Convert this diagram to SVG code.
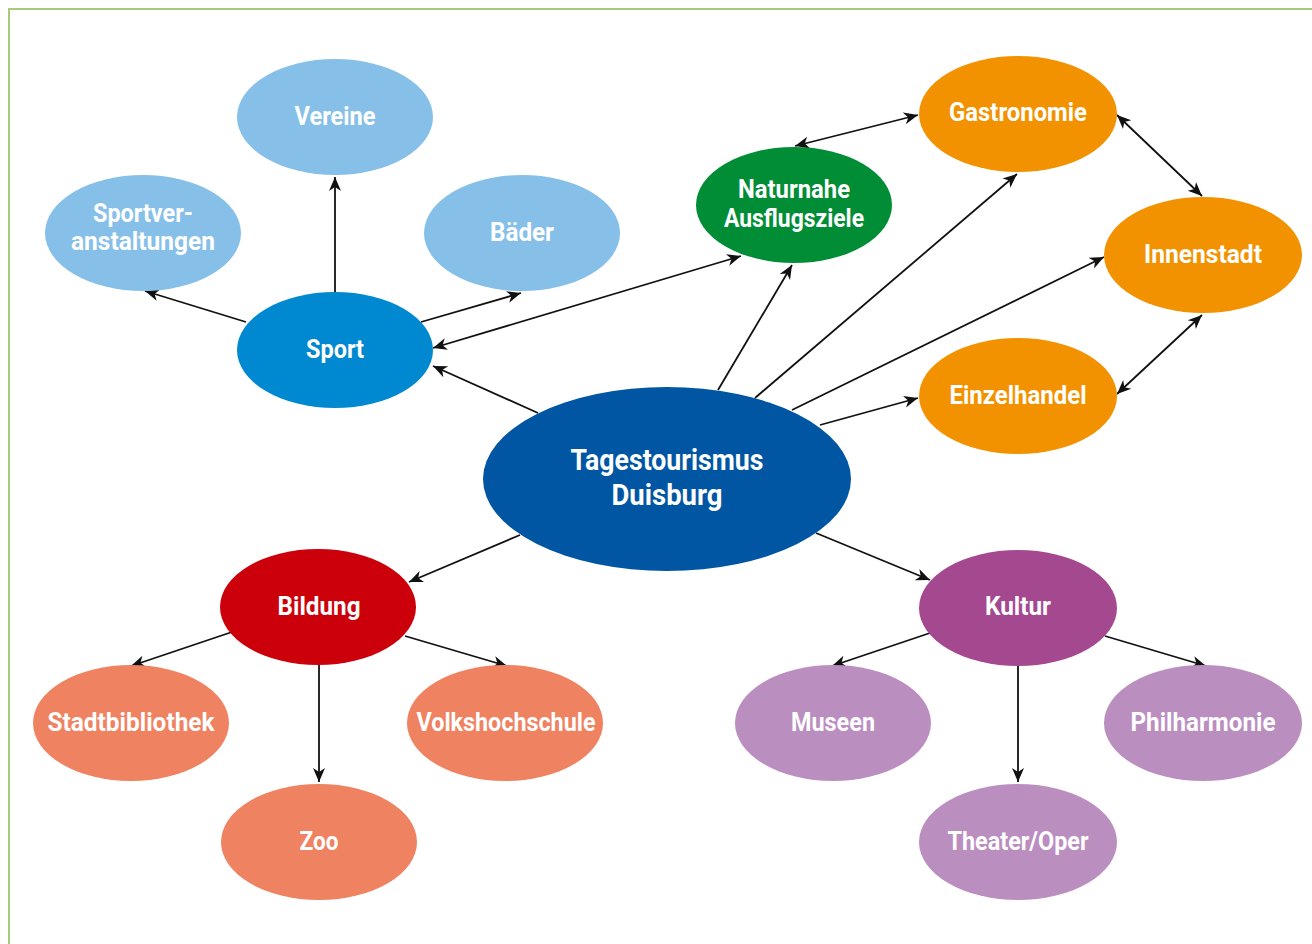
<svg xmlns="http://www.w3.org/2000/svg" width="1312" height="944" viewBox="0 0 1312 944">
  <style>
    .frame { fill: none; stroke: #a6cb7c; stroke-width: 2; }
    .edge { fill: none; stroke: #111; stroke-width: 1.8; }
    .lbl { fill: #fff; font-family: Roboto, "Liberation Sans", sans-serif; font-weight: 700; font-size: 25px; text-anchor: middle; }
    .big { font-size: 30px; }
    .lblue { fill: #86bfe8; }
    .sport { fill: #0089d1; }
    .center { fill: #0056a2; }
    .green { fill: #008d36; }
    .orange { fill: #f39200; }
    .red { fill: #cc000a; }
    .salmon { fill: #ef8261; }
    .kultur { fill: #a4488f; }
    .lpurple { fill: #bb8ec0; }
  </style>
  <defs>
    <marker id="arrow" markerUnits="userSpaceOnUse" markerWidth="16" markerHeight="14" refX="14" refY="7" orient="auto-start-reverse" viewBox="0 0 16 14">
      <path d="M0,1 L14,7 L0,13 L4,7 Z" fill="#111"/>
    </marker>
  </defs>

  <rect width="1312" height="944" fill="#fff"/>
  <path class="frame" d="M9,944 V9 H1312"/>

  <!-- connectors -->
  <g id="connectors">
    <line class="edge" x1="335" y1="292" x2="335" y2="177" marker-end="url(#arrow)"/>
    <line class="edge" x1="246" y1="322" x2="145" y2="291" marker-end="url(#arrow)"/>
    <line class="edge" x1="421" y1="322" x2="521" y2="293" marker-end="url(#arrow)"/>
    <line class="edge" x1="433" y1="348" x2="741" y2="256" marker-start="url(#arrow)" marker-end="url(#arrow)"/>
    <line class="edge" x1="538" y1="413" x2="433" y2="366" marker-end="url(#arrow)"/>
    <line class="edge" x1="718" y1="390" x2="792" y2="265" marker-end="url(#arrow)"/>
    <line class="edge" x1="755" y1="398" x2="1017" y2="174" marker-end="url(#arrow)"/>
    <line class="edge" x1="792" y1="410" x2="1104" y2="257" marker-end="url(#arrow)"/>
    <line class="edge" x1="820" y1="425" x2="918" y2="398" marker-end="url(#arrow)"/>
    <line class="edge" x1="795" y1="146" x2="918" y2="115" marker-start="url(#arrow)" marker-end="url(#arrow)"/>
    <line class="edge" x1="1117" y1="115" x2="1202" y2="196" marker-start="url(#arrow)" marker-end="url(#arrow)"/>
    <line class="edge" x1="1117" y1="394" x2="1202" y2="315" marker-start="url(#arrow)" marker-end="url(#arrow)"/>
    <line class="edge" x1="520" y1="535" x2="409" y2="582" marker-end="url(#arrow)"/>
    <line class="edge" x1="816" y1="533" x2="930" y2="580" marker-end="url(#arrow)"/>
    <line class="edge" x1="232" y1="632" x2="131" y2="666" marker-end="url(#arrow)"/>
    <line class="edge" x1="319" y1="665" x2="319" y2="782" marker-end="url(#arrow)"/>
    <line class="edge" x1="405" y1="636" x2="507" y2="666" marker-end="url(#arrow)"/>
    <line class="edge" x1="930" y1="633" x2="832" y2="666" marker-end="url(#arrow)"/>
    <line class="edge" x1="1018" y1="666" x2="1018" y2="782" marker-end="url(#arrow)"/>
    <line class="edge" x1="1105" y1="636" x2="1206" y2="666" marker-end="url(#arrow)"/>
  </g>

  <!-- Sport branch -->
  <g id="vereine">
    <ellipse class="lblue" cx="335" cy="117" rx="98" ry="58"/>
    <text class="lbl" x="335" y="125" textLength="81" lengthAdjust="spacingAndGlyphs">Vereine</text>
  </g>
  <g id="sportveranstaltungen">
    <ellipse class="lblue" cx="143" cy="233" rx="98" ry="58"/>
    <text class="lbl" x="143" y="222" textLength="100" lengthAdjust="spacingAndGlyphs">Sportver-</text>
    <text class="lbl" x="143" y="250" textLength="144" lengthAdjust="spacingAndGlyphs">anstaltungen</text>
  </g>
  <g id="baeder">
    <ellipse class="lblue" cx="522" cy="233" rx="98" ry="58"/>
    <text class="lbl" x="522" y="241" textLength="64" lengthAdjust="spacingAndGlyphs">Bäder</text>
  </g>
  <g id="sport">
    <ellipse class="sport" cx="335" cy="350" rx="98" ry="58"/>
    <text class="lbl" x="335" y="358" textLength="58" lengthAdjust="spacingAndGlyphs">Sport</text>
  </g>

  <!-- Nature / city cluster -->
  <g id="naturnahe">
    <ellipse class="green" cx="794" cy="205" rx="98" ry="58"/>
    <text class="lbl" x="794" y="198" textLength="112" lengthAdjust="spacingAndGlyphs">Naturnahe</text>
    <text class="lbl" x="794" y="227" textLength="140" lengthAdjust="spacingAndGlyphs">Ausflugsziele</text>
  </g>
  <g id="gastronomie">
    <ellipse class="orange" cx="1018" cy="114" rx="99" ry="58"/>
    <text class="lbl" x="1018" y="121" textLength="138" lengthAdjust="spacingAndGlyphs">Gastronomie</text>
  </g>
  <g id="innenstadt">
    <ellipse class="orange" cx="1203" cy="255" rx="99" ry="58"/>
    <text class="lbl" x="1203" y="263" textLength="118" lengthAdjust="spacingAndGlyphs">Innenstadt</text>
  </g>
  <g id="einzelhandel">
    <ellipse class="orange" cx="1018" cy="396" rx="99" ry="58"/>
    <text class="lbl" x="1018" y="404" textLength="137" lengthAdjust="spacingAndGlyphs">Einzelhandel</text>
  </g>

  <!-- Centre -->
  <g id="tagestourismus">
    <ellipse class="center" cx="667" cy="479" rx="184" ry="92"/>
    <text class="lbl big" x="667" y="470" textLength="193" lengthAdjust="spacingAndGlyphs">Tagestourismus</text>
    <text class="lbl big" x="667" y="505" textLength="111" lengthAdjust="spacingAndGlyphs">Duisburg</text>
  </g>

  <!-- Bildung branch -->
  <g id="bildung">
    <ellipse class="red" cx="318" cy="607" rx="98" ry="58"/>
    <text class="lbl" x="319" y="615" textLength="83" lengthAdjust="spacingAndGlyphs">Bildung</text>
  </g>
  <g id="stadtbibliothek">
    <ellipse class="salmon" cx="131" cy="723" rx="98" ry="58"/>
    <text class="lbl" x="131" y="731" textLength="167" lengthAdjust="spacingAndGlyphs">Stadtbibliothek</text>
  </g>
  <g id="volkshochschule">
    <ellipse class="salmon" cx="505" cy="723" rx="98" ry="58"/>
    <text class="lbl" x="506" y="731" textLength="179" lengthAdjust="spacingAndGlyphs">Volkshochschule</text>
  </g>
  <g id="zoo">
    <ellipse class="salmon" cx="319" cy="842" rx="98" ry="58"/>
    <text class="lbl" x="319" y="850" textLength="39" lengthAdjust="spacingAndGlyphs">Zoo</text>
  </g>

  <!-- Kultur branch -->
  <g id="kultur">
    <ellipse class="kultur" cx="1018" cy="608" rx="99" ry="58"/>
    <text class="lbl" x="1018" y="615" textLength="66" lengthAdjust="spacingAndGlyphs">Kultur</text>
  </g>
  <g id="museen">
    <ellipse class="lpurple" cx="833" cy="723" rx="98" ry="58"/>
    <text class="lbl" x="833" y="731" textLength="84" lengthAdjust="spacingAndGlyphs">Museen</text>
  </g>
  <g id="philharmonie">
    <ellipse class="lpurple" cx="1203" cy="723" rx="99" ry="58"/>
    <text class="lbl" x="1203" y="731" textLength="145" lengthAdjust="spacingAndGlyphs">Philharmonie</text>
  </g>
  <g id="theater">
    <ellipse class="lpurple" cx="1018" cy="842" rx="99" ry="58"/>
    <text class="lbl" x="1018" y="850" textLength="141" lengthAdjust="spacingAndGlyphs">Theater/Oper</text>
  </g>
</svg>
